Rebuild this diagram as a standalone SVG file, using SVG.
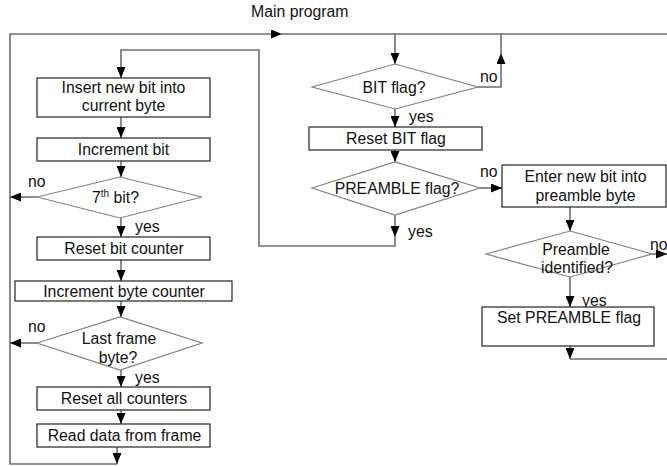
<svg xmlns="http://www.w3.org/2000/svg" width="667" height="466" viewBox="0 0 667 466">
<style>
text{font-family:"Liberation Sans",Arial,sans-serif;font-size:15.8px;fill:#111}
.c{text-anchor:middle}
.box{fill:#fff;stroke:#222;stroke-width:1.2}
.dia{fill:#fff;stroke:#808080;stroke-width:1.2}
.ln{fill:none;stroke:#6e6e6e;stroke-width:1.6}
</style>
<defs>
<marker id="ah" markerUnits="userSpaceOnUse" markerWidth="11" markerHeight="9" refX="11" refY="4.5" orient="auto" viewBox="0 0 11 9">
<path d="M0,0 L11,4.5 L0,9 z" fill="#000"/>
</marker>
</defs>
<text x="251" y="17">Main program</text>
<g id="connectors">
<path class="ln" d="M117,464 H10 V34 H282" marker-end="url(#ah)"/>
<path class="ln" d="M280,34 H667"/>
<path class="ln" d="M395,34 V64" marker-end="url(#ah)"/>
<path class="ln" d="M478,87 H501 V53" marker-end="url(#ah)"/>
<path class="ln" d="M501,55 V34"/>
<path class="ln" d="M395,109 V127" marker-end="url(#ah)"/>
<path class="ln" d="M395,150 V162" marker-end="url(#ah)"/>
<path class="ln" d="M395,215 V237" marker-end="url(#ah)"/>
<path class="ln" d="M395,235 V246 H259 V50 H121 V78" marker-end="url(#ah)"/>
<path class="ln" d="M121,117 V138" marker-end="url(#ah)"/>
<path class="ln" d="M121,161 V177" marker-end="url(#ah)"/>
<path class="ln" d="M37,197 H10" marker-end="url(#ah)"/>
<path class="ln" d="M121,218 V237" marker-end="url(#ah)"/>
<path class="ln" d="M121,260 V281" marker-end="url(#ah)"/>
<path class="ln" d="M121,301 V317" marker-end="url(#ah)"/>
<path class="ln" d="M37,343 H10" marker-end="url(#ah)"/>
<path class="ln" d="M121,370 V387" marker-end="url(#ah)"/>
<path class="ln" d="M121,410 V424" marker-end="url(#ah)"/>
<path class="ln" d="M117,447 V464" marker-end="url(#ah)"/>
<path class="ln" d="M480,188 H502" marker-end="url(#ah)"/>
<path class="ln" d="M570,207 V231" marker-end="url(#ah)"/>
<path class="ln" d="M652,254 H667" marker-end="url(#ah)"/>
<path class="ln" d="M570,277 V307" marker-end="url(#ah)"/>
<path class="ln" d="M570,346 V359" marker-end="url(#ah)"/>
<path class="ln" d="M570,359 H667"/>
</g>
<g id="n-insert"><rect class="box" x="37" y="78" width="173" height="39"/><text class="c" x="123.5" y="93">Insert new bit into</text><text class="c" x="123.5" y="111">current byte</text></g>
<g id="n-incbit"><rect class="box" x="37" y="138" width="173" height="23"/><text class="c" x="123.5" y="155">Increment bit</text></g>
<g id="n-7bit"><polygon class="dia" points="37,197 120,177 202,197 120,218"/><text x="92" y="203">7<tspan font-size="10" dy="-6">th</tspan><tspan dy="6"> bit?</tspan></text></g>
<text x="28" y="187">no</text>
<text x="135" y="232">yes</text>
<g id="n-resetbit"><rect class="box" x="37" y="237" width="173" height="23"/><text class="c" x="124" y="254">Reset bit counter</text></g>
<g id="n-incbyte"><rect class="box" x="15" y="281" width="217" height="20"/><text class="c" x="124" y="296.5">Increment byte counter</text></g>
<g id="n-lastframe"><polygon class="dia" points="37,343 120,317 202,343 120,370"/><text class="c" x="119" y="344">Last frame</text><text class="c" x="118" y="363">byte?</text></g>
<text x="28" y="332">no</text>
<text x="135" y="383">yes</text>
<g id="n-resetall"><rect class="box" x="37" y="387" width="173" height="23"/><text class="c" x="124" y="404">Reset all counters</text></g>
<g id="n-readdata"><rect class="box" x="37" y="424" width="173" height="23"/><text class="c" x="124.5" y="441">Read data from frame</text></g>
<g id="n-bitflag"><polygon class="dia" points="312,87 395,64 478,87 395,109"/><text class="c" x="394" y="93">BIT flag?</text></g>
<text x="480" y="82">no</text>
<text x="409" y="122">yes</text>
<g id="n-resetbitflag"><rect class="box" x="309" y="127" width="173" height="23"/><text class="c" x="396" y="144">Reset BIT flag</text></g>
<g id="n-preambleflag"><polygon class="dia" points="312,188 395,162 480,188 395,215"/><text class="c" x="397" y="194">PREAMBLE flag?</text></g>
<text x="480" y="177">no</text>
<text x="408" y="237">yes</text>
<g id="n-enterbit"><rect class="box" x="502" y="165" width="164" height="42"/><text class="c" x="585.5" y="182">Enter new bit into</text><text class="c" x="585.5" y="201">preamble byte</text></g>
<g id="n-preambleid"><polygon class="dia" points="486,254 570,231 652,254 570,277"/><text class="c" x="576" y="255">Preamble</text><text class="c" x="577" y="273">identified?</text></g>
<text x="650" y="250">no</text>
<text x="582" y="306">yes</text>
<g id="n-setpreamble"><rect class="box" x="482" y="307" width="172" height="39"/><text class="c" x="569" y="323">Set PREAMBLE flag</text></g>
</svg>
